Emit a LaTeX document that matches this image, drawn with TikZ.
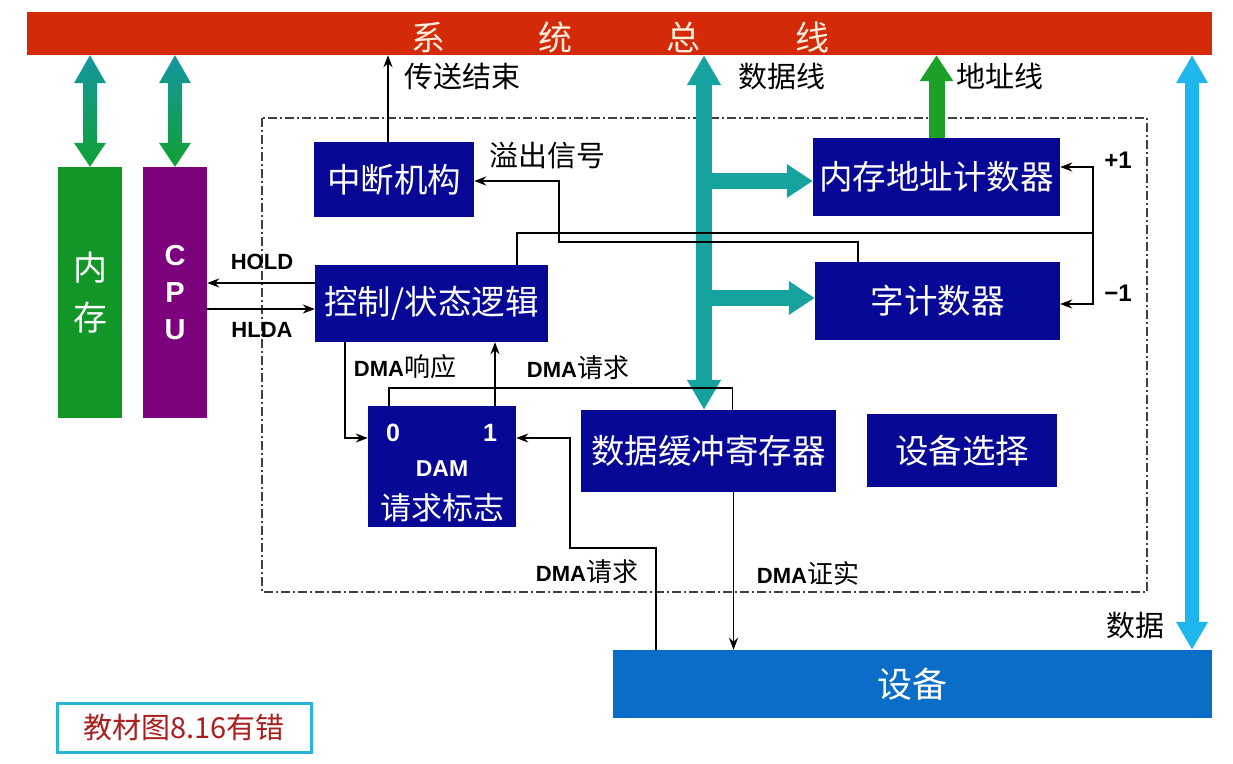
\documentclass[tikz,border=0pt]{standalone}
\usepackage{fontspec}
\setmainfont{Noto Sans CJK SC}
\newfontfamily\lat{Liberation Sans}
\usetikzlibrary{arrows.meta,calc}
\definecolor{busred}{RGB}{212,42,10}
\definecolor{bustext}{RGB}{255,238,220}
\definecolor{memgreen}{RGB}{18,150,40}
\definecolor{cpupurple}{RGB}{125,0,125}
\definecolor{navy}{RGB}{8,8,150}
\definecolor{devblue}{RGB}{10,110,200}
\definecolor{lightblue}{RGB}{30,182,236}
\definecolor{tealc}{RGB}{22,162,158}
\definecolor{tealtop}{RGB}{20,150,160}
\definecolor{greenbot}{RGB}{16,160,50}
\definecolor{addrgreen}{RGB}{28,160,40}
\definecolor{noteblue}{RGB}{40,180,220}
\definecolor{notered}{RGB}{170,30,30}
\begin{document}
\begin{tikzpicture}[x=1pt,y=-1pt,
  box/.style={fill=navy, text=white, inner sep=0pt, font=\fontsize{33.5}{33.5}\selectfont},
  lbl/.style={text=black, inner sep=0pt, font=\fontsize{29}{29}\selectfont},
  latl/.style={text=black, inner sep=0pt, font=\lat\bfseries\fontsize{22}{22}\selectfont},
  arr/.style={line width=1.8pt, -{Stealth[length=12pt,width=9pt]}},
  ln/.style={line width=1.8pt},
  dashdot/.style={line width=1.2pt, draw=black!75, dash pattern=on 9pt off 3pt on 2pt off 3pt},
  fatarr/.style={line width=16pt, -{Triangle[length=26pt,width=32pt]}},
  fatdbl/.style={line width=16pt, {Triangle[length=30pt,width=32pt]}-{Triangle[length=30pt,width=32pt]}},
]
\useasboundingbox (0,0) rectangle (1233,763);
\fill[white] (0,0) rectangle (1233,763);

% dashed frame of the DMA interface
\draw[dashdot] (262,118) rectangle (1147,592);

% system bus
\node[fill=busred, minimum width=1185pt, minimum height=43pt, inner sep=0pt] (bus) at (619.5,33.5) {};
\node[text=bustext, font=\fontsize{34}{34}\selectfont, inner sep=0pt] (bustxt) at (620,37) {系\hspace{94pt}统\hspace{94pt}总\hspace{94pt}线};

% memory and CPU
\node[fill=memgreen, minimum width=64pt, minimum height=251pt, inner sep=0pt, text=white,
      align=center, font=\fontsize{34}{50}\selectfont] (mem) at (90,292.5) {内\\存};
\node[fill=cpupurple, minimum width=64pt, minimum height=251pt, inner sep=0pt, text=white,
      align=center, font=\lat\bfseries\fontsize{29}{37}\selectfont] (cpu) at (175,292.5) {C\\P\\U};

% boxes
\node[box, minimum width=160pt, minimum height=75pt] (intr) at (394,179.5) {中断机构};
\node[box, minimum width=233pt, minimum height=77pt] (ctrl) at (431.5,303.5) {控制/状态逻辑};
\node[box, minimum width=148pt, minimum height=121pt] (dam) at (442,466.5) {};
\node[text=white, font=\lat\bfseries\fontsize{25}{25}\selectfont, inner sep=0pt] (d0) at (393,433) {0};
\node[text=white, font=\lat\bfseries\fontsize{25}{25}\selectfont, inner sep=0pt] (d1) at (490,433) {1};
\node[text=white, font=\lat\bfseries\fontsize{23}{23}\selectfont, inner sep=0pt] (dname) at (442,469) {DAM};
\node[text=white, font=\fontsize{31}{31}\selectfont, inner sep=0pt] (dflag) at (442,508) {请求标志};
\node[box, minimum width=255pt, minimum height=82pt] (buf) at (708.5,451) {数据缓冲寄存器};
\node[box, minimum width=190pt, minimum height=73pt] (sel) at (962,450.5) {设备选择};
\node[box, minimum width=247pt, minimum height=78pt] (mac) at (936.5,177) {内存地址计数器};
\node[box, minimum width=245pt, minimum height=78pt] (wc) at (937.5,301) {字计数器};
\node[fill=devblue, text=white, inner sep=0pt, minimum width=599pt, minimum height=68pt,
      font=\fontsize{35}{35}\selectfont] (dev) at (912.5,684) {设备};

% note box
\node[draw=noteblue, line width=3pt, fill=white, minimum width=254pt, minimum height=49pt, inner sep=0pt,
      text=notered, font=\fontsize{29}{29}\selectfont] (note) at (184,727.5) {教材图8.16有错};

% gradient double arrows bus <-> memory, CPU
\foreach \n in {mem,cpu}{
  \shade[top color=tealtop, bottom color=greenbot]
    (\n.north |- bus.south) -- ++(16,28) -- ++(-9,0) -- ($(\n.north)+(7,-24)$) -- ++(9,0)
    -- (\n.north) -- ++(-16,-24) -- ++(9,0) -- ($(\n.north |- bus.south)+(-7,28)$) -- ++(-9,0) -- cycle;
}

% data line
\coordinate (dl) at ([xshift=-4.5pt]buf.north);
\draw[tealc, fatdbl] (dl |- bus.south) -- (dl);
\coordinate (macin) at ([yshift=-4pt]mac.west);
\coordinate (wcin) at ([yshift=3pt]wc.west);
\draw[tealc, fatarr] (macin -| dl) -- (macin);
\draw[tealc, fatarr] (wcin -| dl) -- (wcin);

% address line
\draw[addrgreen, fatarr] (mac.north) -- (mac.north |- bus.south);

% data to device
\coordinate (bl) at ([xshift=279.5pt]dev.north);
\draw[lightblue, line width=14pt, {Triangle[length=28pt,width=30pt]}-{Triangle[length=28pt,width=30pt]}] (bl |- bus.south) -- (bl);

% thin control lines
\coordinate (te) at ([xshift=-6pt]intr.north);
\draw[arr] (te) -- (te |- bus.south);
\coordinate (hold) at ([yshift=20.5pt]ctrl.west);
\coordinate (hlda) at ([yshift=-5.5pt]ctrl.west);
\draw[arr] (hold) -- (hold -| cpu.east);
\draw[arr] (hlda -| cpu.east) -- (hlda);
\coordinate (damin0) at ([yshift=28.5pt]dam.west);
\coordinate (damin1) at ([yshift=28.5pt]dam.east);
\draw[arr] ([xshift=-86.5pt]ctrl.south) |- (damin0);
\coordinate (dreq) at ([xshift=53pt]dam.north);
\draw[arr] (dreq) -- (dreq |- ctrl.south);
\draw[ln] ([xshift=-53pt]dam.north) -- ++(0,-18) -| ([xshift=24pt]buf.north);
\draw[arr] ([xshift=-256.5pt]dev.north) |- (570,548) |- (damin1);
\coordinate (dack) at ([xshift=25pt]buf.south);
\draw[arr] (dack) -- (dack |- dev.north);
\draw[arr] ([xshift=-79.5pt]wc.north) |- (559,242) |- ([yshift=-1.5pt]intr.east);
\draw[ln] ([xshift=85.5pt]ctrl.north) |- (1093,233) coordinate (jn);
\draw[arr] (jn) |- ([yshift=10pt]mac.east);
\draw[arr] (jn) |- ([yshift=-3pt]wc.east);

% labels
\node[lbl] at (462,76) {传送结束};
\node[lbl] at (547,156) {溢出信号};
\node[lbl] at (782,76) {数据线};
\node[lbl] at (1000,76) {地址线};
\node[lbl] at (1135,625) {数据};
\node[latl] at (262,262) {HOLD};
\node[latl] at (262,330) {HLDA};
\node[lbl, font=\fontsize{26}{26}\selectfont] at (405,367) {{\lat\bfseries\fontsize{22}{22}\selectfont DMA}响应};
\node[lbl, font=\fontsize{26}{26}\selectfont] at (578,368) {{\lat\bfseries\fontsize{22}{22}\selectfont DMA}请求};
\node[lbl, font=\fontsize{26}{26}\selectfont] at (587,572) {{\lat\bfseries\fontsize{22}{22}\selectfont DMA}请求};
\node[lbl, font=\fontsize{26}{26}\selectfont] at (808,573) {{\lat\bfseries\fontsize{22}{22}\selectfont DMA}证实};
\node[lbl, font=\lat\bfseries\fontsize{24}{24}\selectfont] at (1118,160) {+1};
\node[lbl, font=\lat\bfseries\fontsize{24}{24}\selectfont] at (1118,293) {−1};
\end{tikzpicture}
\end{document}
